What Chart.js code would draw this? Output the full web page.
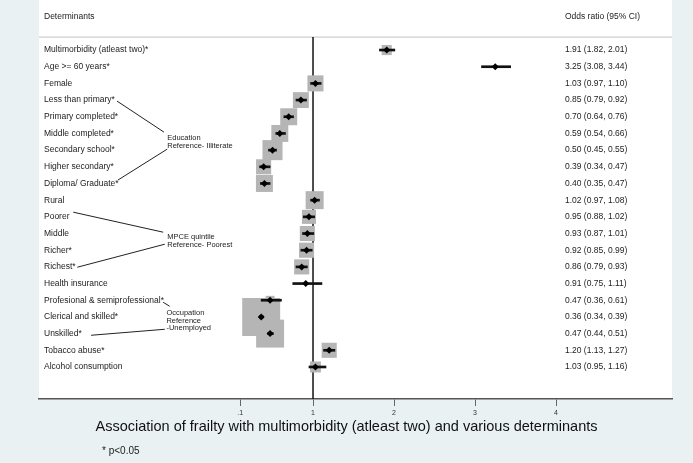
<!DOCTYPE html>
<html>
<head>
<meta charset="utf-8">
<script src="https://cdn.jsdelivr.net/npm/chart.js@4.4.0/dist/chart.umd.min.js"></script>
<style>
  html, body { margin: 0; padding: 0; background: #e9f1f3; }
  #wrap { width: 693px; height: 463px; }
</style>
</head>
<body>
<div id="wrap"><canvas id="forest"></canvas></div>
<script>
const labels = [
  "Multimorbidity (atleast two)*", "Age >= 60 years*", "Female",
  "Less than primary*", "Primary completed*", "Middle completed*",
  "Secondary school*", "Higher secondary*", "Diploma/ Graduate*",
  "Rural", "Poorer", "Middle", "Richer*", "Richest*", "Health insurance",
  "Profesional & semiprofessional*", "Clerical and skilled*", "Unskilled*",
  "Tobacco abuse*", "Alcohol consumption"
];
const odds  = [1.91, 3.25, 1.03, 0.85, 0.70, 0.59, 0.50, 0.39, 0.40, 1.02, 0.95, 0.93, 0.92, 0.86, 0.91, 0.47, 0.36, 0.47, 1.20, 1.03];
const lower = [1.82, 3.08, 0.97, 0.79, 0.64, 0.54, 0.45, 0.34, 0.35, 0.97, 0.88, 0.87, 0.85, 0.79, 0.75, 0.36, 0.34, 0.44, 1.13, 0.95];
const upper = [2.01, 3.44, 1.10, 0.92, 0.76, 0.66, 0.55, 0.47, 0.47, 1.08, 1.02, 1.01, 0.99, 0.93, 1.11, 0.61, 0.39, 0.51, 1.27, 1.16];
const weights = [1.7, 0.2, 4.3, 4.2, 4.8, 4.8, 6.7, 3.8, 4.8, 5.4, 3.3, 3.8, 3.8, 3.8, 0.2, 1.3, 24, 13, 3.8, 2.0];
const xTicks = [0.1, 1, 2, 3, 4];
const xTickLabels = [".1", "1", "2", "3", "4"];

const headerLeft = "Determinants";
const headerRight = "Odds ratio (95% CI)";
const title = "Association of frailty with multimorbidity (atleast two) and various determinants";
const footnote = "* p<0.05";

// group notes, positioned in axis units (x = odds ratio scale, y = row)
const groupNotes = [
  { text: ["Education", "Reference- Illiterate"], at: [-0.80, 5.28], step: 0.48,
    lines: [[-1.42, 3.06, -0.84, 4.92], [-1.41, 7.8, -0.80, 5.94]] },
  { text: ["MPCE quintile", "Reference- Poorest"], at: [-0.80, 11.22], step: 0.44,
    lines: [[-1.96, 9.72, -0.85, 10.92], [-1.91, 13.02, -0.83, 11.64]] },
  { text: ["Occupation", "Reference", "-Unemployed"], at: [-0.81, 15.78], step: 0.45,
    lines: [[-0.85, 15.12, -0.77, 15.36], [-1.74, 17.1, -0.83, 16.74]] }
];

const FONT = 'Arial, "Liberation Sans", sans-serif';
const HEADER_ROW = -2;
const RULE_ROW = -0.78;

const rows = labels.map((_, i) => i);

const forestExtras = {
  id: "forestExtras",
  beforeDraw(chart) {
    const { ctx, chartArea } = chart;
    ctx.save();
    ctx.fillStyle = "#ffffff";
    ctx.fillRect(chartArea.left, chartArea.top, chartArea.right - chartArea.left, chartArea.bottom - chartArea.top);
    ctx.restore();
  },
  beforeDatasetsDraw(chart) {
    const { ctx, chartArea, scales: { x, y } } = chart;
    ctx.save();
    // header rule
    ctx.strokeStyle = "#cfcfcf";
    ctx.lineWidth = 1.2;
    ctx.beginPath();
    ctx.moveTo(chartArea.left, y.getPixelForValue(RULE_ROW));
    ctx.lineTo(chartArea.right, y.getPixelForValue(RULE_ROW));
    ctx.stroke();
    // no-effect line at 1
    ctx.strokeStyle = "#111";
    ctx.lineWidth = 1.5;
    ctx.beginPath();
    ctx.moveTo(x.getPixelForValue(1), y.getPixelForValue(RULE_ROW));
    ctx.lineTo(x.getPixelForValue(1), chartArea.bottom);
    ctx.stroke();
    ctx.restore();
  },
  afterDraw(chart) {
    const { ctx, chartArea, scales: { x, y } } = chart;
    ctx.save();
    ctx.fillStyle = "#222";
    ctx.textBaseline = "middle";
    ctx.textAlign = "left";
    ctx.font = "8.5px " + FONT;
    const labelX = chartArea.left + 5;
    const colX = x.getPixelForValue(4.11);
    ctx.fillText(headerLeft, labelX, y.getPixelForValue(HEADER_ROW));
    ctx.fillText(headerRight, colX, y.getPixelForValue(HEADER_ROW));
    rows.forEach(i => {
      const py = y.getPixelForValue(i);
      ctx.fillText(labels[i], labelX, py);
      const txt = odds[i].toFixed(2) + " (" + lower[i].toFixed(2) + ", " + upper[i].toFixed(2) + ")";
      ctx.fillText(txt, colX, py);
    });

    // group notes
    ctx.font = "7.5px " + FONT;
    ctx.strokeStyle = "#222";
    ctx.lineWidth = 1;
    groupNotes.forEach(g => {
      g.text.forEach((t, k) => {
        ctx.fillText(t, x.getPixelForValue(g.at[0]), y.getPixelForValue(g.at[1] + k * g.step));
      });
      g.lines.forEach(l => {
        ctx.beginPath();
        ctx.moveTo(x.getPixelForValue(l[0]), y.getPixelForValue(l[1]));
        ctx.lineTo(x.getPixelForValue(l[2]), y.getPixelForValue(l[3]));
        ctx.stroke();
      });
    });

    // title + footnote
    ctx.fillStyle = "#111";
    ctx.textAlign = "center";
    ctx.font = "14.5px " + FONT;
    ctx.fillText(title, chart.width / 2, 427);
    ctx.textAlign = "left";
    ctx.font = "10px " + FONT;
    ctx.fillStyle = "#222";
    ctx.fillText(footnote, 102, 451);
    ctx.restore();
  }
};

new Chart(document.getElementById("forest"), {
  type: "scatter",
  data: {
    datasets: [
      {
        label: "weight",
        data: rows.map(i => ({ x: odds[i], y: i })),
        pointStyle: "rect",
        pointRadius: ctx => Math.sqrt(weights[ctx.dataIndex] * 60) / Math.SQRT2,
        backgroundColor: "#b5b5b5",
        borderWidth: 0,
        order: 3
      },
      {
        type: "bar",
        label: "95% CI",
        indexAxis: "y",
        data: rows.map(i => ({ x: [lower[i], upper[i]], y: i })),
        backgroundColor: "#111",
        borderWidth: 0,
        barThickness: 2,
        order: 2
      },
      {
        label: "Odds ratio",
        data: rows.map(i => ({ x: odds[i], y: i })),
        pointStyle: "rectRot",
        pointRadius: 3.5,
        backgroundColor: "#000",
        borderWidth: 0,
        order: 1
      }
    ]
  },
  options: {
    responsive: true,
    maintainAspectRatio: false,
    animation: false,
    layout: { autoPadding: false, padding: { left: 39, right: 21, top: 0, bottom: 44 } },
    plugins: {
      legend: { display: false },
      tooltip: { enabled: false }
    },
    elements: { point: { hoverRadius: 0 } },
    scales: {
      x: {
        type: "linear",
        min: -2.383,
        max: 5.432,
        offset: false,
        afterBuildTicks: scale => { scale.ticks = xTicks.map(v => ({ value: v })); },
        afterFit: scale => { scale.height = 20; scale.paddingLeft = 0; scale.paddingRight = 0; },
        ticks: {
          autoSkip: false,
          maxRotation: 0,
          padding: 3,
          color: "#333",
          font: { size: 7, family: FONT },
          callback: (v, idx) => xTickLabels[idx]
        },
        grid: { drawOnChartArea: false, drawTicks: true, tickLength: 7, color: "#666", tickWidth: 1 },
        border: { display: true, color: "#555", width: 1.5 }
      },
      y: {
        type: "linear",
        display: false,
        offset: false,
        reverse: true,
        min: -3,
        max: 20.92
      }
    }
  },
  plugins: [forestExtras]
});
</script>
</body>
</html>
